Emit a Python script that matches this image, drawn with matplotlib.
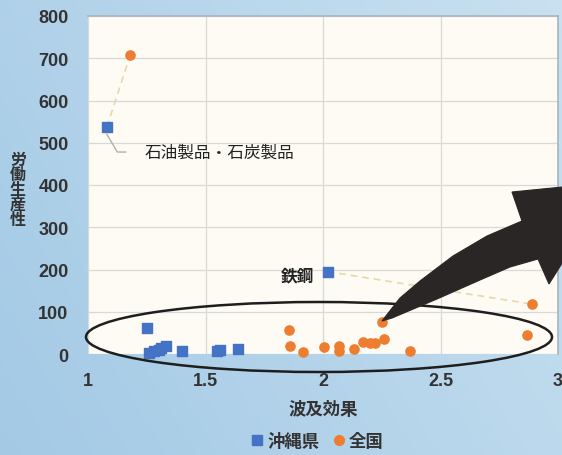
import numpy as np
import matplotlib
matplotlib.use("Agg")
from matplotlib import pyplot as plt
from matplotlib.patches import Ellipse, Polygon
from matplotlib.lines import Line2D

plt.rcParams['font.family'] = ['Noto Sans CJK JP', 'DejaVu Sans']

# 沖縄県（産業別）
oki_x = [1.08, 2.02, 1.25, 1.26, 1.28, 1.30, 1.31, 1.33, 1.40, 1.55, 1.56, 1.64]
oki_y = [537, 195, 62, 3, 6, 10, 15, 18, 8, 6, 10, 12]

# 全国（産業別）
zen_x = [1.18, 2.89, 2.25, 1.855, 1.86, 1.915, 2.005, 2.07, 2.07, 2.13,
         2.17, 2.20, 2.22, 2.26, 2.37, 2.87]
zen_y = [708, 118, 75, 57, 18, 5, 16, 20, 6, 12,
         28, 25, 27, 35, 8, 45]

# ラベル付きの産業 (沖縄県, 全国)
sekiyu = ((1.08, 537), (1.18, 708))
tekko = ((2.02, 195), (2.89, 118))

xticks = [1, 1.5, 2, 2.5, 3]
xticklabels = ["1", "1.5", "2", "2.5", "3"]
yticks = list(range(0, 801, 100))

blue = "#4472c4"
orange = "#ed7d31"
txt = "#333333"

fig = plt.figure(figsize=(5.62, 4.56), dpi=100)

# 背景のグラデーション
bg = fig.add_axes([0, 0, 1, 1], zorder=0)
gx = np.linspace(0, 1, 200)
gy = np.linspace(0, 1, 200)
GX, GY = np.meshgrid(gx, gy)
c0 = np.array([0.64, 0.79, 0.90])
c1 = np.array([0.82, 0.90, 0.95])
t = np.clip(0.55 * GX + 0.45 * (1 - GY) * 0.6, 0, 1)[..., None]
bg.imshow(c0 + (c1 - c0) * t, extent=[0, 1, 0, 1], aspect="auto", origin="upper")
bg.axis("off")

ax = fig.add_axes([88 / 562, 1 - 355 / 456, 470 / 562, 338 / 456], zorder=1)
ax.set_facecolor("#fdfbf4")
ax.set_xlim(1, 3)
ax.set_ylim(0, 800)
ax.set_xticks(xticks)
ax.set_xticklabels(xticklabels)
ax.set_yticks(yticks)
ax.grid(True, color="#d9d9d6", lw=0.9)
ax.set_axisbelow(True)
for s in ["left", "bottom"]:
    ax.spines[s].set_visible(False)
for s in ["top", "right"]:
    ax.spines[s].set_color("#a8b4bc")
    ax.spines[s].set_linewidth(1.2)
ax.tick_params(length=0, labelsize=13, labelcolor=txt)
for lab in ax.get_xticklabels() + ax.get_yticklabels():
    lab.set_fontweight("bold")
    lab.set_fontfamily(["Liberation Sans", "DejaVu Sans"])
ax.tick_params(axis="y", pad=14)
ax.tick_params(axis="x", pad=13)

# 同じ産業の沖縄県と全国を結ぶ点線
for (a, b) in (sekiyu, tekko):
    ax.plot([a[0], b[0]], [a[1], b[1]], ls=(0, (4, 3)), color="#e6d9a8", lw=1.2, zorder=2)

ax.scatter(oki_x, oki_y, marker="s", s=60, color=blue, zorder=3, clip_on=False)
ax.scatter(zen_x, zen_y, marker="o", s=44, color=orange, zorder=3, clip_on=False)

# データラベル
ax.plot([1.08, 1.125, 1.16], [520, 478, 478], color="#b0b0b0", lw=1.0, zorder=2)
ax.text(1.24, 478, "石油製品・石炭製品", fontsize=12, color="#222222",
        va="center", ha="left")
ax.text(1.96, 185, "鉄鋼", fontsize=12, color="#222222", fontweight="bold",
        va="center", ha="right")

ax.set_xlabel("波及効果", fontsize=12.5, fontweight="bold", color=txt, labelpad=8)
fig.text(18 / 562, 1 - 190 / 456, "労\n働\n生\n産\n性", fontsize=11.5, fontweight="bold",
         color=txt, ha="center", va="center", linespacing=0.92)

handles = [
    Line2D([], [], marker="s", ls="none", color=blue, markersize=7),
    Line2D([], [], marker="o", ls="none", color=orange, markersize=7),
]
leg = fig.legend(handles, ["沖縄県", "全国"], loc="center", ncol=2, frameon=False,
                 bbox_to_anchor=(316 / 562, 1 - 442 / 456), handletextpad=0.1,
                 columnspacing=0.6, handlelength=1.0,
                 prop={"size": 12.5, "weight": "bold"})
for tx in leg.get_texts():
    tx.set_color(txt)

# 注目範囲の楕円と矢印
ov = fig.add_axes([0, 0, 1, 1], zorder=2)
ov.set_xlim(0, 562)
ov.set_ylim(456, 0)
ov.axis("off")
ov.patch.set_alpha(0)
ov.add_patch(Ellipse((319, 338), 466, 70, fill=False, ec="#1e1e1e", lw=1.8))
arrow = [
    (382, 322), (400, 299), (420, 282), (453, 257), (487, 237), (522, 222),
    (512, 193), (613, 183), (549, 285), (538, 260), (510, 268), (480, 281),
    (437, 300), (392, 319),
]
ov.add_patch(Polygon(arrow, closed=True, fc="#2b2626", ec="#2b2626", lw=0.8))

fig.savefig("out.png", dpi=100)
